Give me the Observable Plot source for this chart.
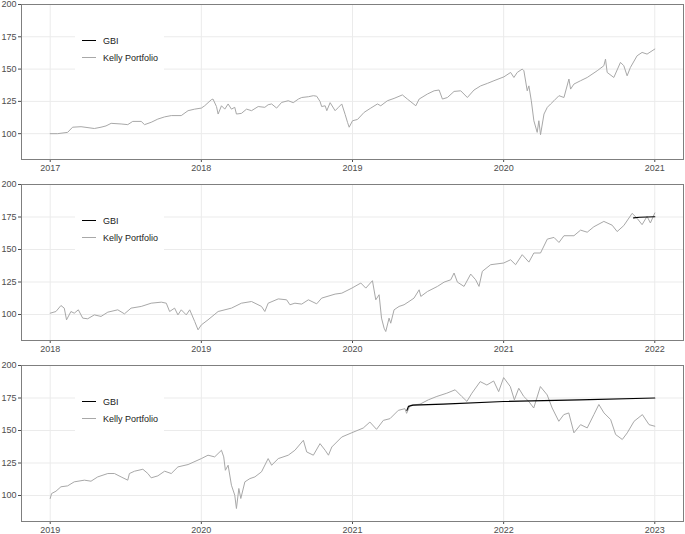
<!DOCTYPE html>
<html>
<head>
<meta charset="utf-8">
<script src="https://cdn.jsdelivr.net/npm/d3@7"></script>
<script src="https://cdn.jsdelivr.net/npm/@observablehq/plot@0.6"></script>
<style>
  html, body { margin: 0; padding: 0; background: white; overflow: hidden; }
  body { width: 685px; height: 534px; position: relative; font-family: "Liberation Sans", Arial, sans-serif; }
  .panel { position: absolute; left: 0; width: 685px; }
  .legend { position: absolute; left: 75px; width: 89px; background: white; padding: 6px 0; }
  .row { height: 17px; display: flex; align-items: center; font-size: 9px; color: #1a1a1a; }
  .key { width: 14px; margin-left: 7px; margin-right: 7px; }
</style>
</head>
<body>
<script>
// ---- data (decimal year, index value) ----
const seriesNames = ["GBI", "Kelly Portfolio"];
const seriesColors = ["#000000", "#a8a8a8"];
const yTicks = [100, 125, 150, 175, 200];

const kelly2017 = [
  [2017.000,100],[2017.049,100],[2017.115,101],[2017.148,105],[2017.204,105.4],[2017.292,104],
  [2017.336,105],[2017.369,106],[2017.403,108],[2017.469,107.5],[2017.513,107],[2017.546,109.5],
  [2017.602,109.5],[2017.624,107],[2017.668,108.8],[2017.712,111.3],[2017.757,113],[2017.801,114],
  [2017.867,114],[2017.912,117.8],[2017.956,119],[2018.000,119.8],[2018.022,121.6],[2018.066,126.3],
  [2018.077,126.8],[2018.100,121],[2018.111,115.2],[2018.133,121.6],[2018.155,119],[2018.177,123],
  [2018.199,119],[2018.221,120.4],[2018.232,115.2],[2018.265,115.7],[2018.299,119],[2018.332,117.8],
  [2018.376,121],[2018.420,120.4],[2018.442,122.4],[2018.465,123],[2018.498,119.8],[2018.531,124.2],
  [2018.575,125.5],[2018.608,124],[2018.642,126.8],[2018.664,128],[2018.708,128.6],[2018.741,129.4],
  [2018.763,129],[2018.785,125],[2018.796,121],[2018.819,121.6],[2018.830,117.8],[2018.852,124],
  [2018.885,117.8],[2018.907,120.4],[2018.929,123],[2018.951,115],[2018.967,108.8],[2018.978,105],
  [2019.000,110],[2019.033,111],[2019.077,116.5],[2019.121,119.8],[2019.165,123],[2019.187,121.6],
  [2019.231,125.5],[2019.275,127.3],[2019.330,130],[2019.363,126.8],[2019.419,121.6],[2019.441,126.8],
  [2019.496,130.7],[2019.540,133.2],[2019.573,133.8],[2019.595,126.8],[2019.628,128],[2019.672,132.7],
  [2019.716,133.2],[2019.760,128],[2019.804,133.8],[2019.848,137],[2019.892,138.9],[2019.936,141],
  [2020.002,144],[2020.046,147.4],[2020.068,143.5],[2020.090,147.4],[2020.123,150],[2020.134,148.7],
  [2020.156,133.2],[2020.167,137],[2020.183,125.5],[2020.200,110],[2020.222,101],[2020.233,110],
  [2020.244,99.2],[2020.267,115.2],[2020.289,120.4],[2020.311,123],[2020.333,125.5],[2020.366,129.4],
  [2020.399,128],[2020.432,142.3],[2020.443,134.5],[2020.465,138.4],[2020.509,141],[2020.553,143.5],
  [2020.619,148.7],[2020.663,152.6],[2020.674,157.7],[2020.685,147.4],[2020.729,143.5],[2020.773,155.2],
  [2020.795,152.6],[2020.817,144.8],[2020.839,151.3],[2020.883,160.3],[2020.916,162.9],[2020.949,161.6],
  [2021.000,165.5]
];
const gbi2017 = [];

const kelly2018 = [
  [2018.000,101],[2018.038,102.3],[2018.071,106.9],[2018.093,104.9],[2018.108,95.9],[2018.137,102.3],
  [2018.159,101],[2018.186,103.6],[2018.215,97.2],[2018.248,96.7],[2018.292,99.7],[2018.336,98.5],
  [2018.381,101.8],[2018.447,103.6],[2018.491,100.5],[2018.535,104.9],[2018.602,106.2],[2018.668,108.7],
  [2018.735,109.5],[2018.768,108.7],[2018.790,102.3],[2018.823,104.9],[2018.845,99.7],[2018.867,103.6],
  [2018.900,99.7],[2018.923,103.6],[2018.956,94.6],[2018.978,88.2],[2019.000,92],[2019.044,95.9],
  [2019.111,102.3],[2019.199,104.9],[2019.265,108.7],[2019.332,110],[2019.398,106.2],[2019.420,102.3],
  [2019.442,108.7],[2019.509,112],[2019.564,111.3],[2019.586,107.5],[2019.619,108.7],[2019.664,108],
  [2019.708,111.3],[2019.763,108.2],[2019.796,112.6],[2019.885,115.7],[2019.929,116.4],[2019.996,120.3],
  [2020.055,124.2],[2020.088,120.3],[2020.132,126],[2020.154,111.3],[2020.176,115.2],[2020.192,97.2],
  [2020.209,89.5],[2020.220,86.9],[2020.242,97.2],[2020.253,93.3],[2020.275,103.6],[2020.308,106.2],
  [2020.341,107.5],[2020.374,110],[2020.407,112.6],[2020.441,119],[2020.452,113.9],[2020.496,117.7],
  [2020.562,121.6],[2020.606,124.9],[2020.650,126.7],[2020.672,131.9],[2020.694,124.9],[2020.738,121.6],
  [2020.782,131.1],[2020.815,126.7],[2020.837,121.6],[2020.859,133.2],[2020.914,138.3],[2021.000,139.6],
  [2021.046,142.1],[2021.079,138.3],[2021.123,146],[2021.167,140.3],[2021.200,147.3],[2021.244,147.3],
  [2021.289,158],[2021.333,159.3],[2021.366,155.4],[2021.399,160.6],[2021.465,160.6],[2021.509,164.9],
  [2021.553,163.3],[2021.597,167.5],[2021.663,171.6],[2021.718,168.7],[2021.751,163.8],[2021.795,168.4],
  [2021.850,177.8],[2021.883,174],[2021.916,169.1],[2021.949,175.5],[2021.971,170.4],[2022.000,178.1]
];
const gbi2018 = [[2021.860,174.3],[2021.900,174.8],[2022.000,175.2]];

const kelly2019 = [
  [2019.000,97.7],[2019.009,101.5],[2019.038,103.3],[2019.071,106.7],[2019.115,107.4],[2019.159,110.5],
  [2019.226,111.8],[2019.270,111],[2019.314,114.3],[2019.381,116.9],[2019.425,116.9],[2019.469,114.3],
  [2019.513,111.8],[2019.524,116.9],[2019.558,118.7],[2019.613,120.2],[2019.646,116.9],[2019.668,113.6],
  [2019.712,115.1],[2019.757,118.7],[2019.801,116.9],[2019.845,122],[2019.912,123.8],[2020.000,128.4],
  [2020.044,131],[2020.088,129.7],[2020.133,134.8],[2020.148,129.7],[2020.159,119.4],[2020.177,123.3],
  [2020.199,107.9],[2020.221,100.3],[2020.232,90],[2020.248,105.4],[2020.261,97.7],[2020.288,110.5],
  [2020.321,113],[2020.354,114.3],[2020.398,118.2],[2020.442,128.4],[2020.465,123.3],[2020.509,128.4],
  [2020.575,131],[2020.619,134.8],[2020.675,142.5],[2020.697,133.5],[2020.741,131],[2020.785,139.9],
  [2020.819,134.8],[2020.841,131],[2020.863,137.3],[2020.929,145],[2020.996,148.3],[2021.071,151.9],
  [2021.115,156.5],[2021.159,150.9],[2021.204,157.8],[2021.248,159.1],[2021.303,165.5],[2021.347,166.8],
  [2021.358,163.2],[2021.381,169.3],[2021.447,170.3],[2021.502,173.6],[2021.558,176.2],[2021.624,178.7],
  [2021.679,181.3],[2021.723,176.2],[2021.757,172.4],[2021.790,178.7],[2021.845,187.6],[2021.889,185],
  [2021.934,188.1],[2021.967,179.9],[2022.000,190.7],[2022.044,183.8],[2022.071,173.6],[2022.100,182.5],
  [2022.133,176.2],[2022.166,172.4],[2022.199,167.3],[2022.243,183.8],[2022.288,177.4],[2022.321,167.3],
  [2022.365,157.1],[2022.398,162.2],[2022.431,163.5],[2022.465,148.2],[2022.509,154.5],[2022.553,152],
  [2022.597,162.2],[2022.630,170],[2022.664,163.5],[2022.708,158.4],[2022.741,146.9],[2022.785,143.1],
  [2022.818,148.2],[2022.863,157.1],[2022.918,162.2],[2022.962,154.5],[2023.000,153.3]
];
const gbi2019 = [[2021.360,165.5],[2021.370,168.5],[2021.400,169.5],[2021.600,170.3],[2022.000,172.3],[2022.500,173.6],[2023.000,175]];

const panels = [
  {start: 2017, kelly: kelly2017, gbi: gbi2017, top: 0,   height: 180, mb: 21},
  {start: 2018, kelly: kelly2018, gbi: gbi2018, top: 180, height: 181, mb: 21},
  {start: 2019, kelly: kelly2019, gbi: gbi2019, top: 361, height: 180, mb: 20}
];

for (const p of panels) {
  const xTicks = d3.range(p.start, p.start + 5);
  const chart = Plot.plot({
    width: 685,
    height: p.height,
    marginTop: 4,
    marginBottom: p.mb,
    marginLeft: 21,
    marginRight: 2,
    style: {fontSize: "9px", fontFamily: "Liberation Sans, Arial, sans-serif", color: "#4d4d4d", background: "white", overflow: "visible"},
    x: {domain: [p.start - 0.19, p.start + 4.19], ticks: xTicks, tickFormat: d => String(d), tickSize: 3, tickPadding: 2, label: null},
    y: {domain: [80, 200], ticks: yTicks, tickSize: 3, tickPadding: 2, label: null},
    marks: [
      Plot.ruleY(yTicks, {stroke: "#ebebeb", strokeWidth: 1}),
      Plot.ruleX(xTicks, {stroke: "#ebebeb", strokeWidth: 1}),
      Plot.line(p.kelly, {x: d => d[0], y: d => d[1], stroke: seriesColors[1], strokeWidth: 1}),
      Plot.line(p.gbi, {x: d => d[0], y: d => d[1], stroke: seriesColors[0], strokeWidth: 1.2}),
      Plot.frame({stroke: "#7f7f7f", strokeWidth: 1})
    ]
  });
  const wrap = document.createElement("div");
  wrap.className = "panel";
  wrap.style.top = p.top + "px";
  wrap.style.height = p.height + "px";
  wrap.appendChild(chart);

  const legend = document.createElement("div");
  legend.className = "legend";
  legend.style.top = (4 + 22) + "px";
  seriesNames.forEach((name, i) => {
    const row = document.createElement("div");
    row.className = "row";
    const key = document.createElement("span");
    key.className = "key";
    key.style.borderTop = (i === 0 ? "1.5px" : "1px") + " solid " + seriesColors[i];
    const label = document.createElement("span");
    label.textContent = name;
    row.appendChild(key);
    row.appendChild(label);
    legend.appendChild(row);
  });
  wrap.appendChild(legend);
  document.body.appendChild(wrap);
}
</script>
</body>
</html>
